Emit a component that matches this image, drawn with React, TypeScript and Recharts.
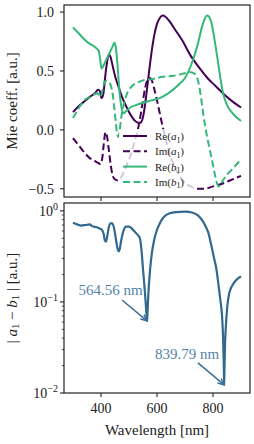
import {
  LineChart, Line, XAxis, YAxis, ReferenceDot, ReferenceLine,
} from 'recharts'

const PURPLE = '#440154'
const GREEN = '#35b779'
const BLUE = '#31688e'
const NOTE = '#5583ab'
const INK = '#222'
const SERIF = '"Liberation Serif", "DejaVu Serif", serif'

// Re(a1)
const reA1Wl = [300, 320, 340, 360, 378, 390, 396, 402, 408, 415, 422, 428, 434, 442, 450, 462, 475, 490, 505, 520, 532, 540, 548, 556, 564, 572, 580, 590, 600, 610, 620, 630, 645, 665, 690, 720, 750, 780, 810, 840, 870, 900]
const reA1 = [0.15, 0.2, 0.24, 0.28, 0.31, 0.34, 0.33, 0.27, 0.3, 0.45, 0.58, 0.64, 0.62, 0.54, 0.46, 0.37, 0.28, 0.2, 0.13, 0.08, 0.06, 0.06, 0.09, 0.19, 0.34, 0.5, 0.65, 0.8, 0.9, 0.95, 0.97, 0.96, 0.92, 0.85, 0.76, 0.63, 0.53, 0.44, 0.37, 0.3, 0.24, 0.19]

// Im(a1)
const imA1Wl = [300, 320, 340, 360, 375, 390, 398, 404, 410, 414, 418, 422, 428, 435, 442, 450, 460, 475, 490, 505, 520, 535, 548, 558, 567, 575, 583, 592, 600, 610, 620, 632, 645, 660, 680, 700, 720, 745, 770, 800, 830, 860, 900]
const imA1 = [-0.07, -0.13, -0.19, -0.24, -0.26, -0.28, -0.29, -0.25, -0.12, -0.04, -0.02, -0.06, -0.17, -0.3, -0.39, -0.42, -0.43, -0.39, -0.31, -0.22, -0.1, 0.04, 0.22, 0.36, 0.43, 0.44, 0.41, 0.33, 0.25, 0.14, 0.03, -0.09, -0.2, -0.3, -0.39, -0.45, -0.48, -0.5, -0.5, -0.48, -0.46, -0.43, -0.39]

// Re(b1)
const reB1Wl = [300, 320, 340, 360, 375, 385, 392, 397, 402, 410, 420, 430, 440, 448, 453, 458, 463, 468, 474, 480, 490, 505, 525, 550, 580, 610, 640, 680, 700, 720, 735, 748, 760, 770, 778, 786, 795, 805, 815, 825, 835, 850, 870, 900]
const reB1 = [0.87, 0.82, 0.77, 0.73, 0.71, 0.69, 0.67, 0.6, 0.52, 0.55, 0.6, 0.65, 0.7, 0.74, 0.7, 0.58, 0.42, 0.28, 0.18, 0.14, 0.16, 0.19, 0.21, 0.23, 0.25, 0.27, 0.31, 0.39, 0.44, 0.54, 0.64, 0.75, 0.87, 0.94, 0.97, 0.96, 0.9, 0.77, 0.62, 0.46, 0.32, 0.21, 0.14, 0.075]

// Im(b1)
const imB1Wl = [300, 315, 330, 345, 360, 375, 388, 396, 402, 408, 414, 420, 428, 436, 442, 448, 453, 458, 462, 466, 472, 480, 490, 500, 515, 530, 550, 580, 620, 660, 700, 720, 732, 742, 750, 758, 766, 775, 785, 795, 805, 815, 822, 835, 850, 870, 900]
const imB1 = [0.1, 0.16, 0.22, 0.26, 0.28, 0.3, 0.31, 0.28, 0.3, 0.37, 0.41, 0.42, 0.41, 0.37, 0.3, 0.18, 0.06, -0.04, -0.06, -0.02, 0.1, 0.2, 0.29, 0.34, 0.38, 0.4, 0.42, 0.43, 0.45, 0.46, 0.48, 0.49, 0.48, 0.45, 0.38, 0.26, 0.12, -0.01, -0.13, -0.24, -0.36, -0.46, -0.48, -0.43, -0.38, -0.33, -0.25]

// |a1 - b1|
const diffWl = [300, 315, 330, 345, 360, 368, 376, 385, 395, 403, 410, 414, 418, 422, 428, 434, 440, 446, 452, 458, 463, 467, 472, 480, 490, 500, 512, 525, 539, 545, 550, 555, 560, 563, 564.56, 566, 569, 575, 582, 590, 600, 612, 625, 645, 670, 700, 725, 745, 760, 772, 783, 793, 803, 812, 820, 827, 832, 836, 838.5, 839.79, 841, 843, 846, 851, 858, 868, 880, 893, 900]
const diff = [0.74, 0.71, 0.69, 0.7, 0.71, 0.68, 0.67, 0.66, 0.64, 0.62, 0.55, 0.47, 0.46, 0.52, 0.66, 0.73, 0.73, 0.66, 0.52, 0.4, 0.36, 0.38, 0.47, 0.6, 0.67, 0.67, 0.63, 0.57, 0.5, 0.36, 0.23, 0.15, 0.095, 0.07, 0.062, 0.075, 0.12, 0.22, 0.35, 0.48, 0.62, 0.75, 0.86, 0.94, 0.97, 0.98, 0.96, 0.9, 0.8, 0.69, 0.58, 0.43, 0.31, 0.23, 0.15, 0.1, 0.072, 0.04, 0.02, 0.0123, 0.02, 0.035, 0.055, 0.09, 0.125, 0.15, 0.17, 0.185, 0.19]

const xTicks = [400, 600, 800]
const topYTicks = [-0.5, 0, 0.5, 1]
const logMajors = [0.01, 0.1, 1]
const logTicks = [0.01, 0.1].flatMap(d => [1, 2, 3, 4, 5, 6, 7, 8, 9].map(k => +(k * d).toFixed(3))).concat([1])

// minima annotations: point, text centre, arrow tail
const notes = [
  { wl: 564.56, v: 0.062, text: '564.56 nm', tx: 434, ty: 0.1355, ax: 475, ay: 0.105 },
  { wl: 839.79, v: 0.0123, text: '839.79 nm', tx: 707, ty: 0.0268, ax: 746, ay: 0.0214 },
]

const legendItems = [
  { kind: 'Re', sym: 'a', color: PURPLE, dash: '' },
  { kind: 'Im', sym: 'a', color: PURPLE, dash: '7 3.5' },
  { kind: 'Re', sym: 'b', color: GREEN, dash: '' },
  { kind: 'Im', sym: 'b', color: GREEN, dash: '7 3.5' },
]

const pts = (xs: number[], ys: number[]) => xs.map((wl, i) => ({ wl, v: ys[i] }))

const fmtTop = (v: number) => (v < 0 ? '\u2212' : '') + Math.abs(v).toFixed(1)

function TopYTick({ x, y, payload }: any) {
  return (
    <g>
      <line x1={x - 4} x2={x} y1={y} y2={y} stroke={INK} strokeWidth={1.1} />
      <text x={x - 10} y={y + 5} textAnchor="end" fontSize={14} fontFamily={SERIF} fill={INK}>{fmtTop(payload.value)}</text>
    </g>
  )
}

function TopXTick({ x, y }: any) {
  return <line x1={x} x2={x} y1={y} y2={y + 4} stroke={INK} strokeWidth={1.1} />
}

function BottomXTick({ x, y, payload }: any) {
  return (
    <g>
      <line x1={x} x2={x} y1={y} y2={y + 4} stroke={INK} strokeWidth={1.1} />
      <text x={x} y={y + 20} textAnchor="middle" fontSize={14} fontFamily={SERIF} fill={INK}>{payload.value}</text>
    </g>
  )
}

function LogTick({ x, y, payload }: any) {
  const lg = Math.log10(payload.value)
  const exp = Math.round(lg)
  const major = logMajors.includes(payload.value) || Math.abs(lg - exp) < 1e-6
  return (
    <g>
      <line x1={x - (major ? 4 : 2.2)} x2={x} y1={y} y2={y} stroke={INK} strokeWidth={major ? 1.1 : 0.8} />
      {major && (
        <text x={x - 6} y={y + 5} textAnchor="end" fontSize={14} fontFamily={SERIF} fill={INK}>
          <tspan>10</tspan>
          <tspan dy={-6} fontSize={10}>{exp === 0 ? '0' : '\u2212' + -exp}</tspan>
        </text>
      )}
    </g>
  )
}

function Arrow(p: any) {
  const { x1, y1, x2, y2 } = p
  const a = Math.atan2(y2 - y1, x2 - x1)
  const L = 7
  const s = 0.42
  const hx1 = x2 - L * Math.cos(a - s), hy1 = y2 - L * Math.sin(a - s)
  const hx2 = x2 - L * Math.cos(a + s), hy2 = y2 - L * Math.sin(a + s)
  return (
    <g>
      <line x1={x1} y1={y1} x2={x2} y2={y2} stroke="#3b6f98" strokeWidth={1.5} />
      <path d={`M${hx1},${hy1} L${x2},${y2} L${hx2},${hy2}`} fill="none" stroke="#3b6f98" strokeWidth={1.5} />
    </g>
  )
}

// italic symbol with subscript 1, then text back on the baseline
const Sub = ({ sym, after }: { sym: string; after: string }) => (
  <>
    <tspan fontStyle="italic">{sym}</tspan>
    <tspan dy={2.5} fontSize="0.72em">1</tspan>
    <tspan dy={-2.5}>{after}</tspan>
  </>
)

export default function App() {
  return (
    <div style={{ position: 'absolute', left: 0, top: 0, width: 254, height: 444, background: '#fff' }}>
      <div style={{ position: 'absolute', left: 0, top: 0 }}>
        <LineChart width={254} height={210} margin={{ top: 5, right: 4, bottom: 0, left: 0 }}>
          <XAxis dataKey="wl" type="number" domain={[268, 932]} ticks={xTicks} allowDataOverflow
            height={13} axisLine={false} tickLine={false} tickSize={0} tickMargin={0} interval={0} tick={TopXTick} />
          <YAxis type="number" domain={[-0.57, 1.06]} ticks={topYTicks} allowDataOverflow
            width={64} axisLine={false} tickLine={false} tickSize={0} tickMargin={0} interval={0} tick={TopYTick} />
          <Line data={pts(reA1Wl, reA1)} dataKey="v" type="monotone" stroke={PURPLE} strokeWidth={2} dot={false} isAnimationActive={false} />
          <Line data={pts(imA1Wl, imA1)} dataKey="v" type="monotone" stroke={PURPLE} strokeWidth={2} strokeDasharray="7 3.5" dot={false} isAnimationActive={false} />
          <Line data={pts(reB1Wl, reB1)} dataKey="v" type="monotone" stroke={GREEN} strokeWidth={2} dot={false} isAnimationActive={false} />
          <Line data={pts(imB1Wl, imB1)} dataKey="v" type="monotone" stroke={GREEN} strokeWidth={2} strokeDasharray="7 3.5" dot={false} isAnimationActive={false} />
        </LineChart>
      </div>

      {/* legend over the lines, semi-transparent like matplotlib */}
      <div style={{ position: 'absolute', left: 119, top: 129, width: 77, height: 60, background: 'rgba(255,255,255,0.78)', borderRadius: 3 }}>
        <svg width={77} height={60}>
          {legendItems.map((it, i) => {
            const cy = 7 + i * 15.3
            return (
              <g key={i}>
                <line x1={4} x2={28} y1={cy} y2={cy} stroke={it.color} strokeWidth={2} strokeDasharray={it.dash || undefined} />
                <text x={36} y={cy + 4} fontSize={11} fontFamily={SERIF} fill={INK}>
                  {it.kind}(<Sub sym={it.sym} after=")" />
                </text>
              </g>
            )
          })}
        </svg>
      </div>

      <div style={{ position: 'absolute', left: 0, top: 198 }}>
        <LineChart width={254} height={246} margin={{ top: 5, right: 4, bottom: 0, left: 0 }}>
          <XAxis dataKey="wl" type="number" domain={[268, 932]} ticks={xTicks} allowDataOverflow
            height={51} axisLine={false} tickLine={false} tickSize={0} tickMargin={0} interval={0} tick={BottomXTick} />
          <YAxis type="number" scale="log" domain={[0.01, 1.22]} ticks={logTicks} allowDataOverflow
            width={64} axisLine={false} tickLine={false} tickSize={0} tickMargin={0} interval={0} tick={LogTick} />
          <Line data={pts(diffWl, diff)} dataKey="v" type="monotone" stroke={BLUE} strokeWidth={2.2} dot={false} isAnimationActive={false} />
          {notes.map(n => (
            <ReferenceLine key={'a' + n.text} segment={[{ x: n.ax, y: n.ay }, { x: n.wl, y: n.v }]} shape={Arrow} />
          ))}
          {notes.map(n => (
            <ReferenceDot key={'t' + n.text} x={n.tx} y={n.ty} r={0} fill="none" stroke="none"
              label={{ value: n.text, position: 'center', fill: NOTE, fontSize: 15, fontFamily: SERIF }} />
          ))}
        </LineChart>
      </div>

      {/* frames and axis titles */}
      <svg width={254} height={444} style={{ position: 'absolute', left: 0, top: 0, pointerEvents: 'none' }}>
        <rect x={64} y={5} width={186} height={192} fill="none" stroke={INK} strokeWidth={1.2} />
        <rect x={64} y={203} width={186} height={190} fill="none" stroke={INK} strokeWidth={1.2} />
        <text x={12} y={101} transform="rotate(-90 12 101)" textAnchor="middle" dominantBaseline="central"
          fontSize={15} fontFamily={SERIF} fill={INK}>Mie coeff. [a.u.]</text>
        <text x={12} y={298} transform="rotate(-90 12 298)" textAnchor="middle" dominantBaseline="central"
          fontSize={15} fontFamily={SERIF} fill={INK}>
          | <Sub sym="a" after={' \u2212 '} /><Sub sym="b" after=" | [a.u.]" />
        </text>
        <text x={157} y={435} textAnchor="middle" fontSize={15} fontFamily={SERIF} fill={INK}>Wavelength [nm]</text>
      </svg>
    </div>
  )
}
